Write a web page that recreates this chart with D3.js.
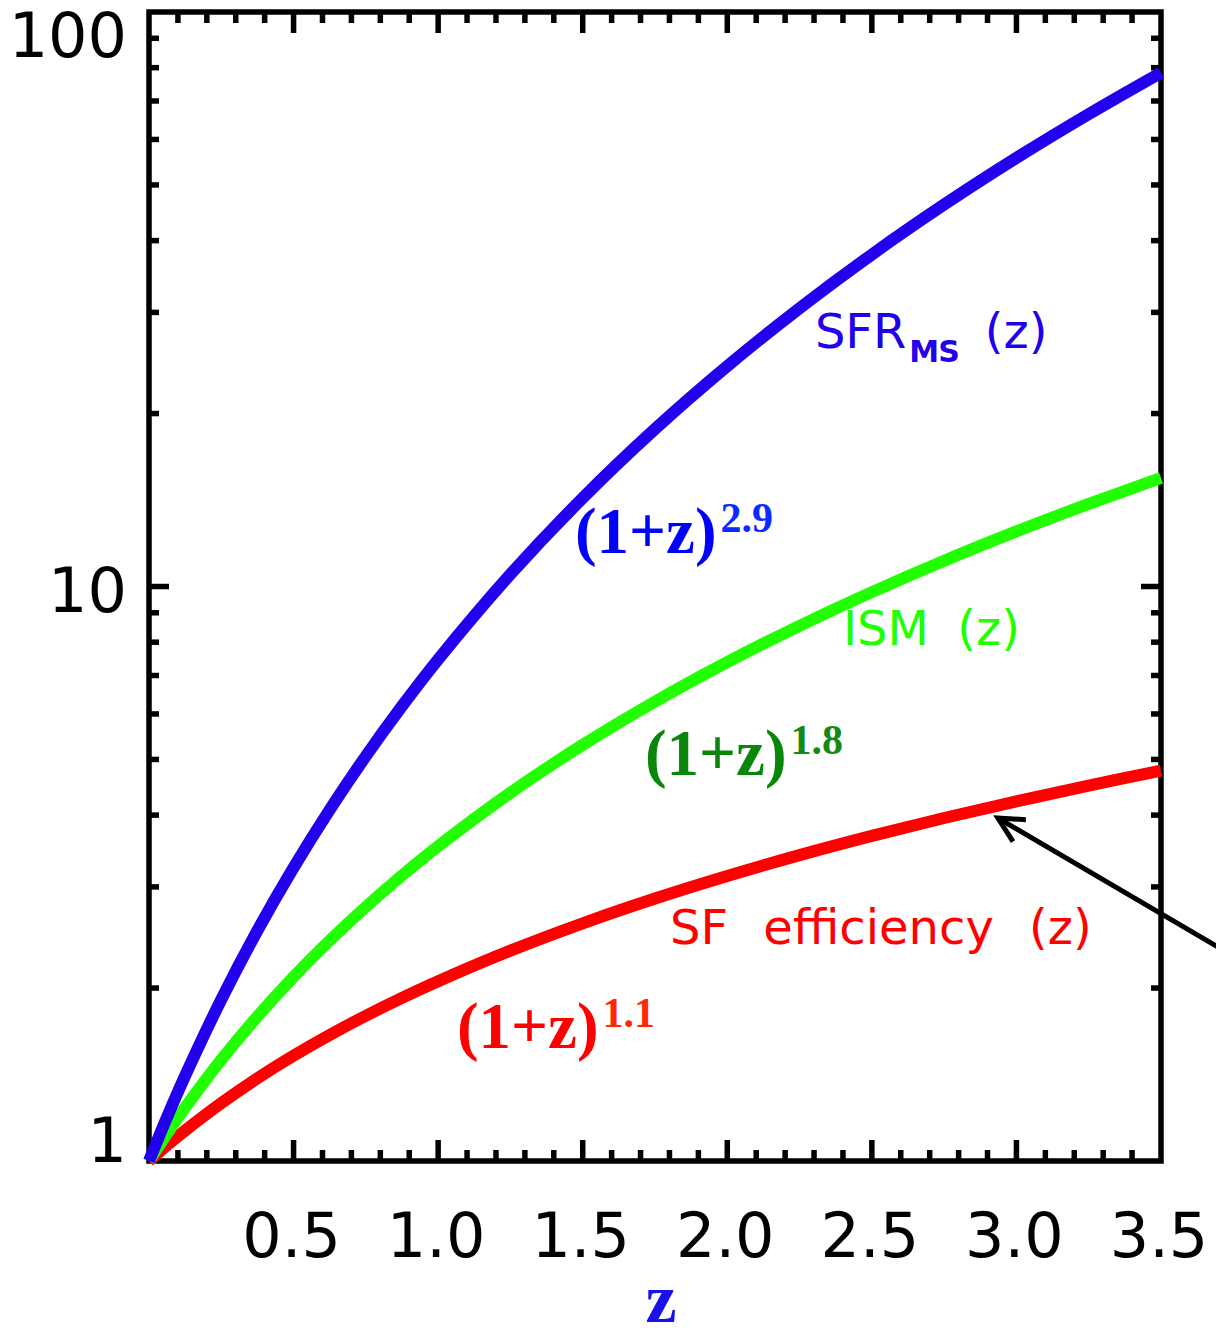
<!DOCTYPE html>
<html>
<head>
<meta charset="utf-8">
<script src="https://cdn.jsdelivr.net/npm/d3@7"></script>
<style>
  html, body { margin: 0; padding: 0; background: #fff; }
  svg { display: block; }
</style>
</head>
<body>
<svg id="chart" width="1216" height="1338"></svg>
<script>
// Redshift grid and the three scaling relations (normalised to 1 at z = 0)
const redshift = [0, 0.0625, 0.125, 0.25, 0.375, 0.5, 0.625, 0.75, 0.875, 1.0, 1.25, 1.5, 1.75, 2.0, 2.25, 2.5, 2.75, 3.0, 3.25, 3.5];
const sfrMain  = [1, 1.192, 1.407, 1.910, 2.519, 3.241, 4.087, 5.068, 6.190, 7.464, 10.50, 14.26, 18.80, 24.19, 30.51, 37.83, 46.21, 55.72, 66.42, 78.41];
const ismMass  = [1, 1.117, 1.239, 1.501, 1.785, 2.092, 2.420, 2.769, 3.140, 3.531, 4.375, 5.300, 6.304, 7.385, 8.543, 9.777, 11.09, 12.47, 13.92, 15.45];
const sfEffic  = [1, 1.065, 1.130, 1.261, 1.393, 1.525, 1.657, 1.790, 1.923, 2.056, 2.324, 2.593, 2.864, 3.135, 3.407, 3.680, 3.954, 4.228, 4.503, 4.779];

const xTickLabels = ["0.5", "1.0", "1.5", "2.0", "2.5", "3.0", "3.5"];
const yTickLabels = ["1", "10", "100"];

const svg = d3.select("#chart");
const plotL = 149, plotR = 1161, plotT = 12, plotB = 1161;

const x = d3.scaleLinear().domain([0, 3.5]).range([plotL, plotR]);
const y = d3.scaleLog().domain([1, 100]).range([plotB, plotT]);

const axisW = 5.5;
const axes = svg.append("g").attr("stroke", "#000").attr("stroke-width", axisW).attr("fill", "none");

// Frame
axes.append("rect")
  .attr("x", plotL).attr("y", plotT)
  .attr("width", plotR - plotL).attr("height", plotB - plotT);

// X ticks (minor every 0.1, major every 0.5), inward on bottom and top
const xTicks = d3.range(1, 35).map(i => i / 10);
xTicks.forEach(t => {
  const major = Math.abs(t * 2 - Math.round(t * 2)) < 1e-6;
  const len = major ? 21 : 11;
  axes.append("line").attr("x1", x(t)).attr("x2", x(t)).attr("y1", plotB).attr("y2", plotB - len);
  axes.append("line").attr("x1", x(t)).attr("x2", x(t)).attr("y1", plotT).attr("y2", plotT + len);
});

// Y ticks (log minor ticks), inward on left and right
const yTicks = [];
[1, 10].forEach(d => { for (let k = 1; k <= 9; k++) yTicks.push(k * d); });
yTicks.forEach(v => {
  if (v === 1) return;
  const major = (v === 10);
  const len = major ? 20 : 10;
  axes.append("line").attr("x1", plotL).attr("x2", plotL + len).attr("y1", y(v)).attr("y2", y(v));
  axes.append("line").attr("x1", plotR).attr("x2", plotR - len).attr("y1", y(v)).attr("y2", y(v));
});

// Tick labels
const tickFont = "'DejaVu Sans', sans-serif";
svg.append("g").selectAll("text").data(xTickLabels).join("text")
  .attr("x", d => x(+d) - 2)
  .attr("y", 1257)
  .attr("text-anchor", "middle")
  .attr("font-family", tickFont).attr("font-size", 62)
  .attr("fill", "#000")
  .text(d => d);

svg.append("g").selectAll("text").data(yTickLabels).join("text")
  .attr("x", 127)
  .attr("y", d => Math.min(Math.max(y(+d) + 25, 57), 1162))
  .attr("text-anchor", "end")
  .attr("font-family", tickFont).attr("font-size", 62)
  .attr("fill", "#000")
  .text(d => d);

// X axis title
svg.append("text")
  .attr("x", (plotL + plotR) / 2 + 6).attr("y", 1322)
  .attr("text-anchor", "middle")
  .attr("font-family", "'Liberation Serif', 'Times New Roman', serif")
  .attr("font-weight", "bold").attr("font-size", 70)
  .attr("fill", "#1a10e8")
  .text("z");

// Curves
const line = d3.line()
  .x((d, i) => x(redshift[i]))
  .y(d => y(d))
  .curve(d3.curveCatmullRom.alpha(0.5));

const series = [
  { values: sfEffic, color: "#ff0000" },
  { values: ismMass, color: "#22ff00" },
  { values: sfrMain, color: "#2200ee" }
];
svg.append("g").selectAll("path").data(series).join("path")
  .attr("d", d => line(d.values))
  .attr("fill", "none")
  .attr("stroke", d => d.color)
  .attr("stroke-width", 12)
  .attr("stroke-linecap", "butt");

// Curve names
const labelFont = "'DejaVu Sans', sans-serif";
const sfrLabel = svg.append("text")
  .attr("x", x(2.303)).attr("y", y(26.0))
  .attr("font-family", labelFont).attr("font-size", 48)
  .attr("fill", "#2200ee");
sfrLabel.append("tspan").text("SFR");
sfrLabel.append("tspan").attr("dx", 3).attr("dy", 14)
  .attr("font-weight", "bold").attr("font-size", 30).attr("letter-spacing", -1).text("MS");
sfrLabel.append("tspan").attr("dx", 26).attr("dy", -14).text("(z)");

svg.append("text")
  .attr("x", x(2.400)).attr("y", y(7.91))
  .attr("font-family", labelFont).attr("font-size", 48)
  .attr("word-spacing", 13)
  .attr("fill", "#22ff00")
  .text("ISM (z)");

svg.append("text")
  .attr("x", x(1.802)).attr("y", y(2.387))
  .attr("font-family", labelFont).attr("font-size", 48)
  .attr("word-spacing", 20)
  .attr("fill", "#ff0000")
  .text("SF efficiency (z)");

// Power-law annotations
const serif = "'Liberation Serif', 'Times New Roman', serif";
const powerLabels = [
  { z: 1.473, v: 11.44, exp: "2.9", base: "#0000ff", sup: "#0a2aff" },
  { z: 1.715, v: 4.70,  exp: "1.8", base: "#0a860a", sup: "#138a13" },
  { z: 1.065, v: 1.573, exp: "1.1", base: "#ff0000", sup: "#ff2800" }
];
powerLabels.forEach(p => {
  const t = svg.append("text")
    .attr("x", x(p.z)).attr("y", y(p.v))
    .attr("font-family", serif).attr("font-weight", "bold")
    .attr("font-size", 65).attr("fill", p.base);
  t.append("tspan").text("(1+z)");
  t.append("tspan").attr("dx", 4).attr("dy", -21).attr("font-size", 42)
    .attr("fill", p.sup).text(p.exp);
});

// Arrow pointing at the efficiency curve
const tip = [x(2.936), y(3.954)];
const tail = [x(3.773), y(2.239)];
const ang = Math.atan2(tail[1] - tip[1], tail[0] - tip[0]);
const headLen = 28, spread = 27 * Math.PI / 180;
const arrow = svg.append("g").attr("stroke", "#000").attr("stroke-width", 5).attr("fill", "none")
  .attr("stroke-linecap", "butt").attr("stroke-linejoin", "miter");
arrow.append("line").attr("x1", tip[0]).attr("y1", tip[1]).attr("x2", tail[0]).attr("y2", tail[1]);
arrow.append("path").attr("d", d3.line()([
  [tip[0] + headLen * Math.cos(ang - spread), tip[1] + headLen * Math.sin(ang - spread)],
  tip,
  [tip[0] + headLen * Math.cos(ang + spread), tip[1] + headLen * Math.sin(ang + spread)]
]));
</script>
</body>
</html>
